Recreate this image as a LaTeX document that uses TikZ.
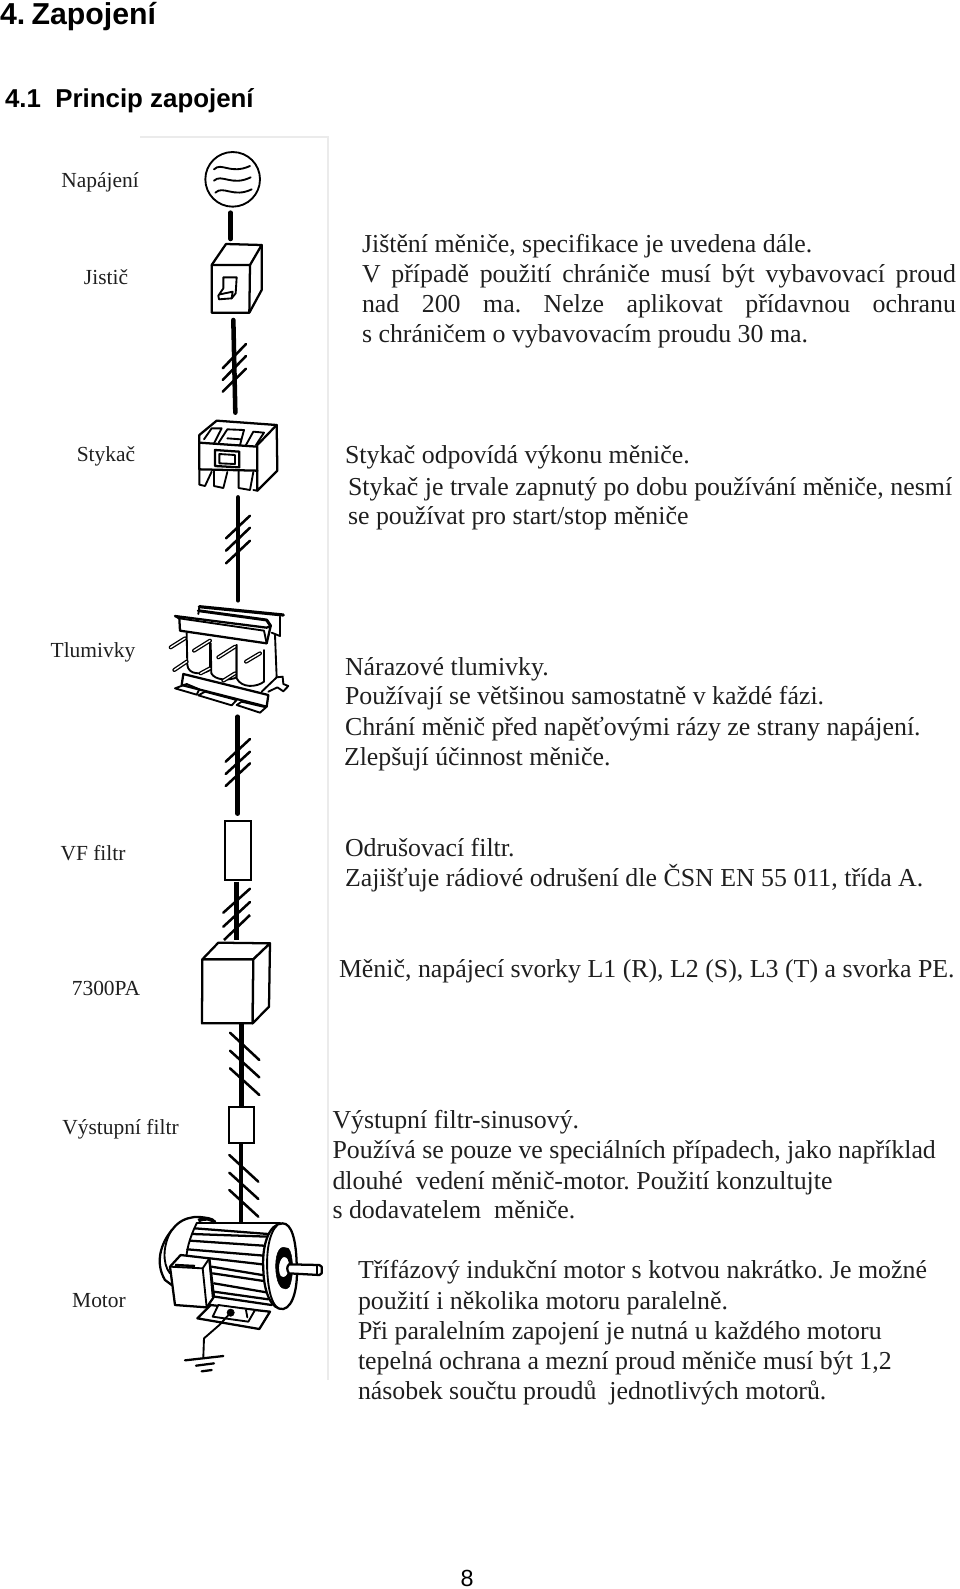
\documentclass[tikz,border=0pt]{standalone}
\usepackage{fontspec}
\setmainfont{Liberation Serif}
\newfontfamily\headfont{Liberation Sans}
\newcommand{\txtfont}{\fontsize{19.4}{23}\selectfont\frenchspacing}
\newcommand{\lblfont}{\fontsize{16.1}{20}\selectfont}
\tikzset{
 x=0.75pt,y=-0.75pt,
 line/.style={anchor=base west,inner sep=0pt,outer sep=0pt,yshift=-0.75pt,font=\txtfont,text=black!88},
 lbl/.style={anchor=base,inner sep=0pt,outer sep=0pt,font=\lblfont,text=black!88},
 head/.style={anchor=base west,inner sep=0pt,outer sep=0pt,font=\headfont\bfseries\fontsize{22.7}{26}\selectfont},
 subhead/.style={anchor=base west,inner sep=0pt,outer sep=0pt,font=\headfont\bfseries\fontsize{19.4}{24}\selectfont},
 wire/.style={line width=3.4pt,line cap=round,black},
 tick/.style={line width=1.9pt,line cap=round,black},
 ink/.style={line width=1.4pt,line join=round,line cap=round,black},
 bold ink/.style={line width=1.7pt,line join=round,line cap=round,black},
 rod/.style={line width=1pt,double=white,double distance=1pt,line cap=round,black},
 partbox/.style={draw=black,line width=1.7pt,fill=white,inner sep=0pt,outer sep=0pt},
 za/.style={shift={(140,130)},x=0.25pt,y=-0.25pt},
 zb/.style={shift={(140,590)},x=0.25pt,y=-0.25pt},
 zc/.style={shift={(140,1010)},x=0.25pt,y=-0.25pt},
}
\begin{document}
\begin{tikzpicture}
\useasboundingbox (0,0) rectangle (960,1589);
% frame
\coordinate (fa) at (140,137); \coordinate (fb) at (328,137); \coordinate (fc) at (328,1380);
\draw[black!8,line width=1pt] (fa) -- (fb) -- (fc);
% headings
\node[head] (h1) at (0,24.5) {4.\kern-1.5pt\ Zapojení};
\node[subhead] (h2) at (5,107) {4.1\ \ Princip zapojení};
% left labels
\node[lbl] (l1) at (100,187) {Napájení};
\node[lbl] (l2) at (106,284) {Jistič};
\node[lbl] (l3) at (106,461) {Stykač};
\node[lbl] (l4) at (93,657) {Tlumivky};
\node[lbl] (l5) at (93,860) {VF filtr};
\node[lbl] (l6) at (106,995.5) {7300PA};
\node[lbl] (l7) at (120.5,1134) {Výstupní filtr};
\node[lbl] (l8) at (99,1307) {Motor};
% right text
\node[line] (a1) at (362,251.4) {Jištění měniče, specifikace je uvedena dále.};
\node[line] (a2) at (362,281.8) {\makebox[445.5pt][s]{V případě použití chrániče musí být vybavovací proud}};
\node[line] (a3) at (362,311.2) {\makebox[445.5pt][s]{nad 200 ma. Nelze aplikovat přídavnou ochranu}};
\node[line] (a4) at (362,341.6) {s chráničem o vybavovacím proudu 30 ma.};
\node[line] (b1) at (345,462) {Stykač odpovídá výkonu měniče.};
\node[line] (b2) at (348,494) {Stykač je trvale zapnutý po dobu používání měniče, nesmí};
\node[line] (b3) at (348,523) {se používat pro start/stop měniče};
\node[line] (c1) at (345,674) {Nárazové tlumivky.};
\node[line] (c2) at (345,703.5) {Používají se většinou samostatně v každé fázi.};
\node[line] (c3) at (345,734) {Chrání měnič před napěťovými rázy ze strany napájení.};
\node[line] (c4) at (344,764) {Zlepšují účinnost měniče.};
\node[line] (d1) at (345,855) {Odrušovací filtr.};
\node[line] (d2) at (345,885) {Zajišťuje rádiové odrušení dle ČSN EN 55 011, třída A.};
\node[line] (e1) at (339,976) {Měnič, napájecí svorky L1 (R), L2 (S), L3 (T) a svorka PE.};
\node[line] (f1) at (332.5,1127) {Výstupní filtr-sinusový.};
\node[line] (f2) at (332.5,1157.6) {Používá se pouze ve speciálních případech, jako například};
\node[line] (f3) at (332.5,1188) {dlouhé\ \ vedení měnič-motor. Použití konzultujte};
\node[line] (f4) at (332.5,1217) {s dodavatelem\ \ měniče.};
\node[line] (g1) at (358,1277) {Třífázový indukční motor s kotvou nakrátko. Je možné};
\node[line] (g2) at (358,1308) {použití i několika motoru paralelně.};
\node[line] (g3) at (358,1338) {Při paralelním zapojení je nutná u každého motoru};
\node[line] (g4) at (358,1368.5) {tepelná ochrana a mezní proud měniče musí být 1,2};
\node[line] (g5) at (358,1398) {násobek součtu proudů\ \ jednotlivých motorů.};
\node[anchor=base,inner sep=0pt,font=\headfont\fontsize{17.5}{20}\selectfont] (pg) at (467,1586.5) {8};

% zoom A: source, breaker, contactor
\begin{scope}[za]
 \node[draw=black,line width=1.4pt,circle,minimum size=41pt,inner sep=0pt] (src) at (278,148) {};
 \draw[ink] (222,118) .. controls (245,95) and (270,135) .. (330,108);
 \draw[ink] (222,152) .. controls (245,130) and (275,170) .. (332,142);
 \draw[ink] (226,188) .. controls (250,165) and (280,205) .. (335,178);
 \coordinate (w1a) at (272,248); \coordinate (w1b) at (272,327);
 \draw[wire] (w1a) -- (w1b);
 % breaker
 \draw[bold ink] (215,405) -- (330,405) -- (328,548) -- (215,548) -- cycle;
 \draw[bold ink] (215,405) -- (258,342) -- (365,345) -- (330,405);
 \draw[bold ink] (365,345) -- (365,480) -- (328,548);
 \draw[ink] (250,442) -- (290,442) -- (287,490) -- (275,505) -- (237,508) -- (235,497) -- (250,475) -- cycle;
 \draw[ink] (240,493) -- (278,485) -- (275,505);
 \coordinate (w2a) at (280,570); \coordinate (w2b) at (286,848);
 \draw[wire] (w2a) -- (w2b);
 \coordinate (t2a) at (248,715); \coordinate (t2b) at (318,642);
 \coordinate (t2c) at (248,750); \coordinate (t2d) at (318,678);
 \coordinate (t2e) at (248,785); \coordinate (t2f) at (318,716);
 \draw[tick] (t2a) -- (t2b); \draw[tick] (t2c) -- (t2d); \draw[tick] (t2e) -- (t2f);
 % contactor
 \draw[bold ink] (178,938) -- (352,950) -- (352,1022) -- (178,1018) -- cycle;
 \draw[bold ink] (178,938) -- (178,915) -- (230,872) -- (410,885) -- (352,945);
 \draw[bold ink] (410,885) -- (412,1022) -- (352,1082) -- (352,1022);
 \draw[ink] (178,1018) -- (178,1064) -- (195,1068) -- (215,1025);
 \draw[ink] (222,1022) -- (222,1068) -- (250,1074) -- (262,1026);
 \draw[ink] (296,1024) -- (296,1074) -- (330,1080) -- (340,1026);
 \draw[ink] (352,1082) -- (340,1080);
 \draw[ink] (192,928) -- (215,895) -- (245,895) -- (222,940);
 \draw[ink] (236,938) -- (262,898) -- (312,900) -- (300,945);
 \draw[ink] (262,925) -- (302,928);
 \draw[ink] (318,945) -- (340,905) -- (372,908) -- (348,945);
 \draw[bold ink] (225,960) -- (298,965) -- (298,1012) -- (225,1008) -- cycle;
 \draw[ink] (238,972) -- (285,975) -- (285,1002) -- (238,1000) -- cycle;
 \coordinate (w3a) at (294,1102); \coordinate (w3b) at (294,1411);
 \draw[wire] (w3a) -- (w3b);
 \coordinate (t3a) at (258,1225); \coordinate (t3b) at (330,1157);
 \coordinate (t3c) at (258,1262); \coordinate (t3d) at (330,1193);
 \coordinate (t3e) at (258,1300); \coordinate (t3f) at (330,1232);
 \draw[tick] (t3a) -- (t3b); \draw[tick] (t3c) -- (t3d); \draw[tick] (t3e) -- (t3f);
\end{scope}

% zoom B: choke, filter, inverter
\begin{scope}[zb]
 % rear yoke
 \draw[ink,line width=2.4pt] (178,50) -- (430,75);
 \draw[ink] (178,50) -- (175,72);
 \draw[ink] (420,80) -- (420,138) -- (395,128);
 % right yoke side
 \draw[ink] (405,135) -- (410,262);
 % coils
 \draw[ink,fill=white] (140,130) -- (142,225) .. controls (145,255) and (185,255) .. (210,240) -- (210,150);
 \draw[ink,fill=white] (212,160) -- (214,250) .. controls (225,272) and (270,272) .. (290,262) -- (290,165);
 \draw[ink,fill=white] (290,165) -- (290,265) .. controls (305,295) and (350,292) .. (372,275) -- (372,180);
 % front yoke
 \draw[bold ink,fill=white] (105,78) -- (380,113) -- (392,108) -- (380,160) -- (120,122) -- (118,85) -- cycle;
 \draw[ink] (118,85) -- (372,122) -- (380,160);
 \draw[ink,line width=2.2pt] (175,62) -- (380,90) -- (392,108);
 % studs
 \draw[rod] (92,172) -- (135,145);
 \draw[rod] (103,240) -- (140,215);
 \draw[rod] (162,182) -- (210,152);
 \draw[rod] (235,202) -- (285,170);
 \draw[rod] (318,215) -- (360,190);
 \draw[rod] (182,250) -- (210,235);
 \draw[rod] (250,272) -- (285,250);
 % base
 \draw[bold ink,fill=white] (130,252) -- (385,315) -- (380,350) -- (125,285) -- cycle;
 \draw[ink] (105,295) -- (140,282) -- (178,298) -- (170,314) -- cycle;
 \draw[ink] (175,316) -- (195,305) -- (290,330) -- (275,346) -- cycle;
 \draw[ink] (290,345) -- (305,335) -- (378,352) -- (360,368) -- cycle;
 \draw[ink] (365,305) -- (410,262) -- (428,260) -- (430,282) -- (445,288) -- (430,304) -- (412,292) -- (385,305);
 % wires
 \coordinate (w4a) at (293,380); \coordinate (w4b) at (293,671);
 \draw[wire] (w4a) -- (w4b);
 \coordinate (t4a) at (257,515); \coordinate (t4b) at (330,447);
 \coordinate (t4c) at (257,552); \coordinate (t4d) at (330,485);
 \coordinate (t4e) at (257,588); \coordinate (t4f) at (330,520);
 \draw[tick] (t4a) -- (t4b); \draw[tick] (t4c) -- (t4d); \draw[tick] (t4e) -- (t4f);
 % VF filter
 \node[partbox,minimum width=19.5pt,minimum height=44.5pt] (vf) at (293.5,781.5) {};
 \coordinate (w5a) at (290,875); \coordinate (w5b) at (290,1050);
 \draw[wire,line cap=butt] (w5a) -- (w5b);
 \coordinate (t5a) at (250,968); \coordinate (t5b) at (330,896);
 \coordinate (t5c) at (250,1010); \coordinate (t5d) at (330,936);
 \coordinate (t5e) at (252,1050); \coordinate (t5f) at (330,975);
 \draw[tick] (t5a) -- (t5b); \draw[tick] (t5c) -- (t5d); \draw[tick,line cap=butt] (t5e) -- (t5f);
 % inverter
 \draw[bold ink,fill=white] (187,1108) -- (340,1108) -- (338,1300) -- (186,1300) -- cycle;
 \draw[bold ink,fill=white] (187,1108) -- (235,1058) -- (390,1060) -- (340,1108) -- cycle;
 \draw[bold ink,fill=white] (340,1108) -- (390,1060) -- (387,1250) -- (338,1300) -- cycle;
\end{scope}

% zoom C: output filter, motor
\begin{scope}[zc]
 \coordinate (w6a) at (304,40); \coordinate (w6b) at (304,288);
 \draw[wire,line cap=butt] (w6a) -- (w6b);
 \coordinate (t6a) at (270,68); \coordinate (t6b) at (358,150);
 \coordinate (t6c) at (270,122); \coordinate (t6d) at (358,202);
 \coordinate (t6e) at (270,175); \coordinate (t6f) at (358,255);
 \draw[tick] (t6a) -- (t6b); \draw[tick] (t6c) -- (t6d); \draw[tick] (t6e) -- (t6f);
 \node[partbox,minimum width=18.5pt,minimum height=27pt] (of) at (305,344) {};
 \coordinate (w7a) at (302,400); \coordinate (w7b) at (302,635);
 \draw[wire,line cap=butt,line width=3pt] (w7a) -- (w7b);
 \coordinate (t7a) at (268,435); \coordinate (t7b) at (355,515);
 \coordinate (t7c) at (268,488); \coordinate (t7d) at (355,567);
 \coordinate (t7e) at (268,540); \coordinate (t7f) at (355,620);
 \draw[tick] (t7a) -- (t7b); \draw[tick] (t7c) -- (t7d); \draw[tick] (t7e) -- (t7f);
 % motor rear bell
 \draw[bold ink] (225,635) .. controls (190,612) and (130,615) .. (100,655) .. controls (60,700) and (45,760) .. (75,810) -- (95,825);
 \draw[ink] (95,660) .. controls (70,700) and (65,760) .. (90,790);
 \draw[line width=2.8pt] (175,632) .. controls (195,622) and (215,625) .. (225,638);
 % motor body
 \draw[bold ink] (170,640) -- (420,640);
 \draw[ink] (170,640) .. controls (150,680) and (135,730) .. (140,760);
 \draw[bold ink] (225,860) -- (395,885);
 \foreach \ya/\xa/\yb in {655/165/672,672/158/680,692/150/708,718/142/738,745/210/765,770/215/798,790/218/815,820/222/848,845/222/868}
   {\draw[bold ink] (\xa,\ya) -- (385,\yb);}
 % motor end face
 \draw[bold ink,fill=white] (428,640) .. controls (385,640) and (365,710) .. (370,780) .. controls (372,850) and (395,900) .. (430,897) .. controls (460,890) and (475,830) .. (470,760) .. controls (468,690) and (455,640) .. (428,640) -- cycle;
 \draw[ink] (412,645) .. controls (385,670) and (375,740) .. (385,820) .. controls (390,860) and (400,885) .. (415,895);
 \draw[fill=black] (430,712) .. controls (410,712) and (402,760) .. (410,800) .. controls (416,835) and (435,845) .. (448,830) .. controls (462,800) and (460,730) .. (445,715) -- cycle;
 \draw[ink,fill=white] (432,738) .. controls (415,740) and (408,780) .. (420,800) .. controls (432,812) and (448,800) .. (450,770) .. controls (450,750) and (445,738) .. (432,738) -- cycle;
 % shaft
 \draw[bold ink,fill=white] (447,763) -- (538,765) -- (545,770) -- (545,790) -- (538,795) -- (447,790) .. controls (440,780) and (440,770) .. (447,763) -- cycle;
 \draw[ink] (532,766) -- (532,794);
 % terminal box
 \draw[bold ink,fill=white] (90,770) -- (122,735) -- (208,745) -- (222,860) -- (200,892) -- (105,885) -- cycle;
 \draw[ink] (90,770) -- (188,775) -- (200,892);
 \draw[ink] (188,775) -- (208,745);
 \draw[line width=1.8pt] (105,765) -- (165,768);
 \draw[ink] (208,750) -- (218,860);
 % foot
 \draw[bold ink,fill=white] (172,925) -- (212,885) -- (390,905) -- (358,957) -- cycle;
 \draw[ink,fill=white] (218,920) -- (235,885) -- (345,900) -- (325,935) -- cycle;
 \draw[ink] (318,900) -- (322,922);
 \draw[fill=black] (272,908) circle[radius=11];
 % earth
 \coordinate (ea) at (272,908); \coordinate (ec) at (190,1040);
 \draw[ink] (ea) -- (238,945) -- (192,985) -- (ec);
 \draw[tick,line width=1.7pt] (135,1051) -- (250,1038);
 \draw[tick,line width=1.7pt] (168,1067) -- (222,1060);
 \draw[tick,line width=1.7pt] (185,1084) -- (215,1080);
\end{scope}
\end{tikzpicture}
\end{document}
